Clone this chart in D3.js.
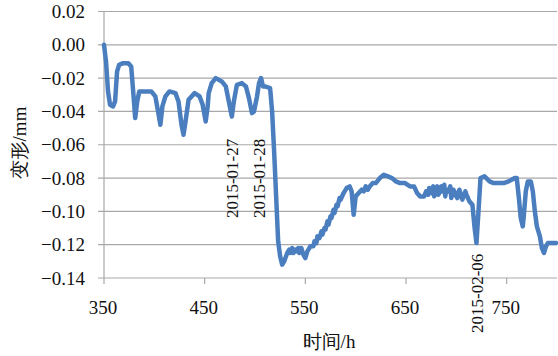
<!DOCTYPE html>
<html>
<head>
<meta charset="utf-8">
<script src="https://cdn.jsdelivr.net/npm/d3@7"></script>
<style>
  body { margin: 0; background: #fff; }
  text { font-family: "Liberation Serif", "Times New Roman", serif; fill: #111; }
</style>
</head>
<body>
<svg width="558" height="356"></svg>
<script>
// data
let hours = [350, 352, 354, 356, 359, 361, 363, 365, 369, 374, 377, 379, 381, 383, 385, 391, 397, 401, 404, 406,
  408, 411, 415, 421, 424, 427, 429, 431, 434, 440, 445, 448, 451, 453, 454, 457, 461, 467, 471, 474,
  477, 479, 482, 487, 491, 494, 497, 499, 502, 504, 506, 508, 510, 515, 517, 519, 521, 523, 525, 527,
  529, 532, 534, 535, 537, 538, 540, 541, 543, 544, 546, 548, 550, 552, 555, 558, 559, 561, 562, 564,
  566, 567, 569, 570, 572, 573, 575, 576, 578, 579, 581, 582, 584, 585, 588, 591, 594, 596, 598, 600,
  603, 606, 608, 610, 612, 614, 617, 620, 624, 628, 632, 636, 640, 644, 649, 654, 658, 661, 664, 668,
  670, 672, 673, 675, 677, 678, 680, 681, 682, 683, 685, 686, 688, 689, 690, 692, 694, 695, 697, 698,
  700, 701, 703, 704, 706, 707, 709, 710, 713, 716, 718, 720, 722, 724, 728, 733, 737, 742, 747, 752,
  758, 760, 762, 764, 766, 767, 769, 771, 774, 776, 778, 780, 783, 785, 787, 789, 791, 795, 799];
let deform = [0.000, -0.010, -0.028, -0.036, -0.037, -0.034, -0.016, -0.012, -0.011, -0.011, -0.013, -0.028, -0.044, -0.034, -0.028, -0.028, -0.028, -0.031, -0.041, -0.048,
  -0.037, -0.031, -0.028, -0.029, -0.034, -0.048, -0.054, -0.046, -0.033, -0.029, -0.031, -0.036, -0.046, -0.037, -0.029, -0.023, -0.020, -0.022, -0.025, -0.034,
  -0.043, -0.034, -0.024, -0.023, -0.025, -0.032, -0.041, -0.040, -0.031, -0.023, -0.020, -0.025, -0.025, -0.026, -0.040, -0.064, -0.091, -0.118, -0.127, -0.132,
  -0.130, -0.125, -0.123, -0.125, -0.122, -0.125, -0.123, -0.124, -0.122, -0.125, -0.122, -0.126, -0.128, -0.124, -0.121, -0.121, -0.118, -0.119, -0.115, -0.116,
  -0.112, -0.114, -0.110, -0.111, -0.106, -0.108, -0.103, -0.104, -0.099, -0.101, -0.096, -0.097, -0.092, -0.093, -0.089, -0.086, -0.085, -0.088, -0.102, -0.091,
  -0.089, -0.087, -0.088, -0.085, -0.087, -0.085, -0.083, -0.083, -0.080, -0.078, -0.079, -0.080, -0.082, -0.083, -0.083, -0.085, -0.085, -0.089, -0.091, -0.091,
  -0.088, -0.090, -0.086, -0.089, -0.085, -0.091, -0.087, -0.085, -0.090, -0.089, -0.085, -0.088, -0.084, -0.091, -0.087, -0.088, -0.085, -0.092, -0.087, -0.088,
  -0.091, -0.092, -0.087, -0.089, -0.093, -0.091, -0.088, -0.090, -0.094, -0.096, -0.109, -0.119, -0.100, -0.080, -0.079, -0.082, -0.083, -0.083, -0.083, -0.082,
  -0.080, -0.080, -0.091, -0.104, -0.109, -0.103, -0.088, -0.082, -0.082, -0.088, -0.100, -0.109, -0.115, -0.122, -0.125, -0.121, -0.119, -0.119, -0.119];

let xTicks = [350, 450, 550, 650, 750];
let yTicks = [0.02, 0.00, -0.02, -0.04, -0.06, -0.08, -0.10, -0.12, -0.14];

// date notes: label, hour, value where text starts
let noteLabels = ["2015-01-27", "2015-01-28", "2015-02-06"];
let noteHours = [483, 510, 726];
let noteValues = [-0.104, -0.104, -0.173];

let svg = d3.select("svg");
let x = d3.scaleLinear().domain([350, 800]).range([104, 557]);
let y = d3.scaleLinear().domain([-0.14, 0.02]).range([278, 11.5]);

// grid
svg.append("g")
  .selectAll("line")
  .data(yTicks)
  .join("line")
    .attr("x1", x(350) - 6)
    .attr("x2", x(800))
    .attr("y1", d => y(d))
    .attr("y2", d => y(d))
    .attr("stroke", "#a8a8a8")
    .attr("stroke-width", 1.2);

// left axis line
svg.append("line")
  .attr("x1", x(350)).attr("x2", x(350))
  .attr("y1", y(0.02)).attr("y2", y(-0.14))
  .attr("stroke", "#a8a8a8").attr("stroke-width", 1.2);

// x tick marks
svg.append("g")
  .selectAll("line")
  .data(xTicks)
  .join("line")
    .attr("x1", d => x(d)).attr("x2", d => x(d))
    .attr("y1", y(-0.14)).attr("y2", y(-0.14) + 6)
    .attr("stroke", "#a8a8a8").attr("stroke-width", 1.2);

// y labels
let fmt = d => (d < 0 ? "\u2212" : "") + Math.abs(d).toFixed(2);
svg.append("g")
  .selectAll("text")
  .data(yTicks)
  .join("text")
    .attr("x", 85)
    .attr("y", d => y(d))
    .attr("dy", "0.35em")
    .attr("text-anchor", "end")
    .style("font-size", "19px")
    .text(fmt);

// x labels
svg.append("g")
  .selectAll("text")
  .data(xTicks)
  .join("text")
    .attr("x", d => x(d) - 1)
    .attr("y", 314)
    .attr("text-anchor", "middle")
    .style("font-size", "19px")
    .text(d => d);

// axis titles
svg.append("text")
  .attr("x", 329).attr("y", 348)
  .attr("text-anchor", "middle")
  .style("font-size", "19px")
  .text("时间/h");

svg.append("text")
  .attr("transform", "translate(26,143) rotate(-90)")
  .attr("text-anchor", "middle")
  .style("font-size", "19px")
  .text("变形/mm");

// the line
let line = d3.line()
  .x((d, i) => x(hours[i]))
  .y(d => y(d));

svg.append("path")
  .datum(deform)
  .attr("fill", "none")
  .attr("stroke", "#4a7ebf")
  .attr("stroke-width", 4.5)
  .attr("stroke-linejoin", "round")
  .attr("stroke-linecap", "round")
  .attr("d", line);

// rotated date notes
svg.append("g")
  .selectAll("text")
  .data(noteLabels)
  .join("text")
    .attr("transform", (d, i) => "translate(" + x(noteHours[i]) + "," + y(noteValues[i]) + ") rotate(-90)")
    .style("font-size", "17px")
    .text(d => d);
</script>
</body>
</html>
